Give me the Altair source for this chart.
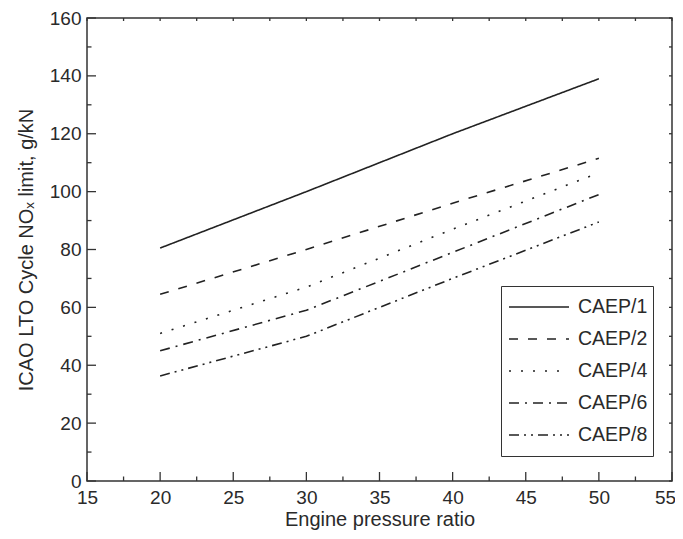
import altair as alt
import pandas as pd

# ---- data ----
opr = [20, 30, 40, 50]
caep1 = [80.5, 100, 120, 139]
caep2 = [64.5, 80, 96, 111.5]
caep4 = [51, 67, 87, 106.5]
caep6 = [45, 59, 79, 99]
caep8 = [36.3, 50, 70, 89.5]
series = ["CAEP/1", "CAEP/2", "CAEP/4", "CAEP/6", "CAEP/8"]
dashes = [[1, 0], [9, 10], [2, 10], [10, 6, 2, 6], [10, 5, 2, 5, 2, 5]]

x_major = [15, 20, 25, 30, 35, 40, 45, 50, 55]
x_minor = [17.5, 22.5, 27.5, 32.5, 37.5, 42.5, 47.5, 52.5]
x_all = [15 + 2.5 * i for i in range(17)]
y_major = [0, 20, 40, 60, 80, 100, 120, 140, 160]
y_minor = [10, 30, 50, 70, 90, 110, 130, 150]
y_all = [10 * i for i in range(17)]

rows = []
for name, vals in zip(series, [caep1, caep2, caep4, caep6, caep8]):
    for x, y in zip(opr, vals):
        rows.append({"opr": x, "nox": y, "standard": name})
df = pd.DataFrame(rows)

W, H = 585, 463
FONT = "Liberation Sans"
TXT = "#2a2a2a"
INK = "#222222"
TICK = "#333333"

xs = alt.Scale(domain=[15, 55], nice=False, zero=False)
ys = alt.Scale(domain=[0, 160], nice=False, zero=False)

ax_x = alt.Axis(
    orient="bottom", values=x_major, ticks=False, domain=False,
    labelPadding=7, labelFlush=False, labelOverlap=False,
    labelOffset={"condition": {"test": "datum.value == 55", "value": -7}, "value": 0},
    title="Engine pressure ratio", titlePadding=2)
ax_y = alt.Axis(
    orient="left", values=y_major, ticks=False, domain=False,
    labelPadding=6, labelFlush=False, labelOverlap=False,
    title="ICAO LTO Cycle NOₓ limit, g/kN", titlePadding=13)

lines = alt.Chart(df).mark_line(strokeWidth=1.6, color=INK).encode(
    x=alt.X("opr:Q", scale=xs, axis=ax_x),
    y=alt.Y("nox:Q", scale=ys, axis=ax_y),
    strokeDash=alt.StrokeDash("standard:N",
        scale=alt.Scale(domain=series, range=dashes),
        legend=alt.Legend(
            orient="none", legendX=414, legendY=268, title=None,
            symbolType="stroke", symbolSize=3600, symbolStrokeWidth=1.5,
            symbolStrokeColor=INK, clipHeight=32, rowPadding=0, padding=5,
            symbolOffset=2, labelOffset=8, labelFontSize=19.5, labelFont=FONT,
            labelColor=TXT, strokeColor="#333333", fillColor="white")),
)


def xticks(vals, y0, y1):
    d = pd.DataFrame({"v": vals})
    return alt.Chart(d).mark_rule(color=TICK, strokeWidth=1.3).encode(
        x=alt.X("v:Q", scale=xs, axis=ax_x),
        y=alt.value(y0), y2=alt.value(y1))


def yticks(vals, x0, x1):
    d = pd.DataFrame({"v": vals})
    return alt.Chart(d).mark_rule(color=TICK, strokeWidth=1.3).encode(
        y=alt.Y("v:Q", scale=ys, axis=ax_y),
        x=alt.value(x0), x2=alt.value(x1))


ticks = [
    xticks(x_major, H, H - 9),       # bottom, major, inward
    xticks(x_minor, H, H - 4.5),     # bottom, minor, inward
    xticks(x_all, 0, 3),             # top, small
    yticks(y_major, 0, 9),           # left, major, inward
    yticks(y_minor, 0, 4.5),         # left, minor, inward
    yticks(y_all, W, W - 3),         # right, small
]

chart = alt.layer(lines, *ticks).properties(
    width=W, height=H,
    autosize=alt.AutoSizeParams(type="none"),
    padding={"left": 79, "top": 10, "right": 3, "bottom": 50},
).configure_view(
    stroke="#333333", strokeWidth=1.5
).configure_axis(
    grid=False, labelFont=FONT, titleFont=FONT, labelFontSize=19,
    titleFontSize=20, labelColor=TXT, titleColor=TXT, titleFontWeight="normal"
)

chart.save("out.html", embed_options={"renderer": "svg", "actions": False})
